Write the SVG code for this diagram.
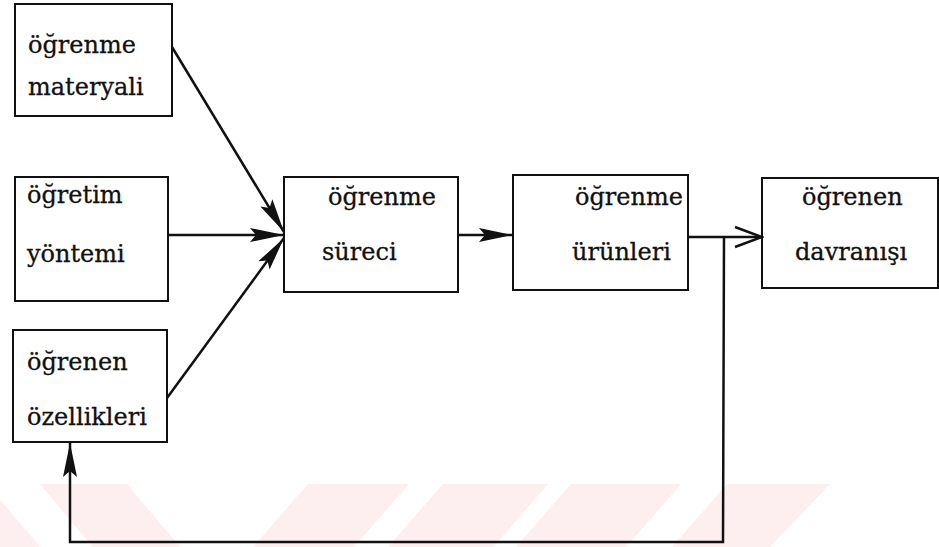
<svg xmlns="http://www.w3.org/2000/svg" width="939" height="547" viewBox="0 0 939 547">
<style>
.box{fill:none;stroke:#111;stroke-width:2}
.t{font-family:"DejaVu Serif","Liberation Serif",serif;font-size:24px;fill:#111;stroke:#111;stroke-width:0.3}
.ln{fill:none;stroke:#111;stroke-width:2.5}
.wm{fill:#fdeef0;stroke:none}
</style>
<defs>
<marker id="ah" markerUnits="userSpaceOnUse" markerWidth="36" markerHeight="18" refX="34" refY="9" orient="auto">
<path d="M0,2 L34,9 L0,16 L6,9 Z" fill="#111"/>
</marker>
<marker id="oh" markerUnits="userSpaceOnUse" markerWidth="30" markerHeight="24" refX="28" refY="12" orient="auto">
<path d="M1,2 L28,12 L1,22" fill="none" stroke="#111" stroke-width="2.5"/>
</marker>
</defs>
<rect width="939" height="547" fill="#fff"/>
<g id="watermark">
<polygon class="wm" points="-100,484 -13,484 40,547 -47,547"/>
<polygon class="wm" points="40,484 127,484 180,547 93,547"/>
<polygon class="wm" points="308,484 409,484 354,547 253,547"/>
<polygon class="wm" points="443,484 548,484 493,547 388,547"/>
<polygon class="wm" points="571,484 681,484 626,547 516,547"/>
<polygon class="wm" points="727,484 830,484 770,547 672,547"/>
</g>
<g id="connectors">
<line class="ln" x1="172" y1="47" x2="284" y2="232" marker-end="url(#ah)"/>
<line class="ln" x1="168" y1="235" x2="284" y2="235" marker-end="url(#ah)"/>
<line class="ln" x1="167" y1="398" x2="284" y2="238" marker-end="url(#ah)"/>
<line class="ln" x1="458" y1="235" x2="513" y2="235" marker-end="url(#ah)"/>
<line class="ln" x1="688" y1="237" x2="762" y2="237" marker-end="url(#oh)"/>
<polyline class="ln" points="724,237 723,542 70,542 70,443" marker-end="url(#ah)"/>
</g>
<g id="n1">
<rect class="box" x="15" y="4" width="157" height="112"/>
<text class="t" x="28" y="53">öğrenme</text>
<text class="t" x="28" y="95">materyali</text>
</g>
<g id="n2">
<rect class="box" x="15" y="177" width="153" height="124"/>
<text class="t" x="27" y="203">öğretim</text>
<text class="t" x="27" y="262">yöntemi</text>
</g>
<g id="n3">
<rect class="box" x="13" y="330" width="154" height="112"/>
<text class="t" x="27" y="370">öğrenen</text>
<text class="t" x="27" y="425">özellikleri</text>
</g>
<g id="n4">
<rect class="box" x="284" y="177" width="174" height="115"/>
<text class="t" x="328" y="205">öğrenme</text>
<text class="t" x="322" y="260">süreci</text>
</g>
<g id="n5">
<rect class="box" x="513" y="175" width="175" height="115"/>
<text class="t" x="575" y="205">öğrenme</text>
<text class="t" x="572" y="260">ürünleri</text>
</g>
<g id="n6">
<rect class="box" x="762" y="178" width="176" height="110"/>
<text class="t" x="802" y="205">öğrenen</text>
<text class="t" x="795" y="260">davranışı</text>
</g>
</svg>
